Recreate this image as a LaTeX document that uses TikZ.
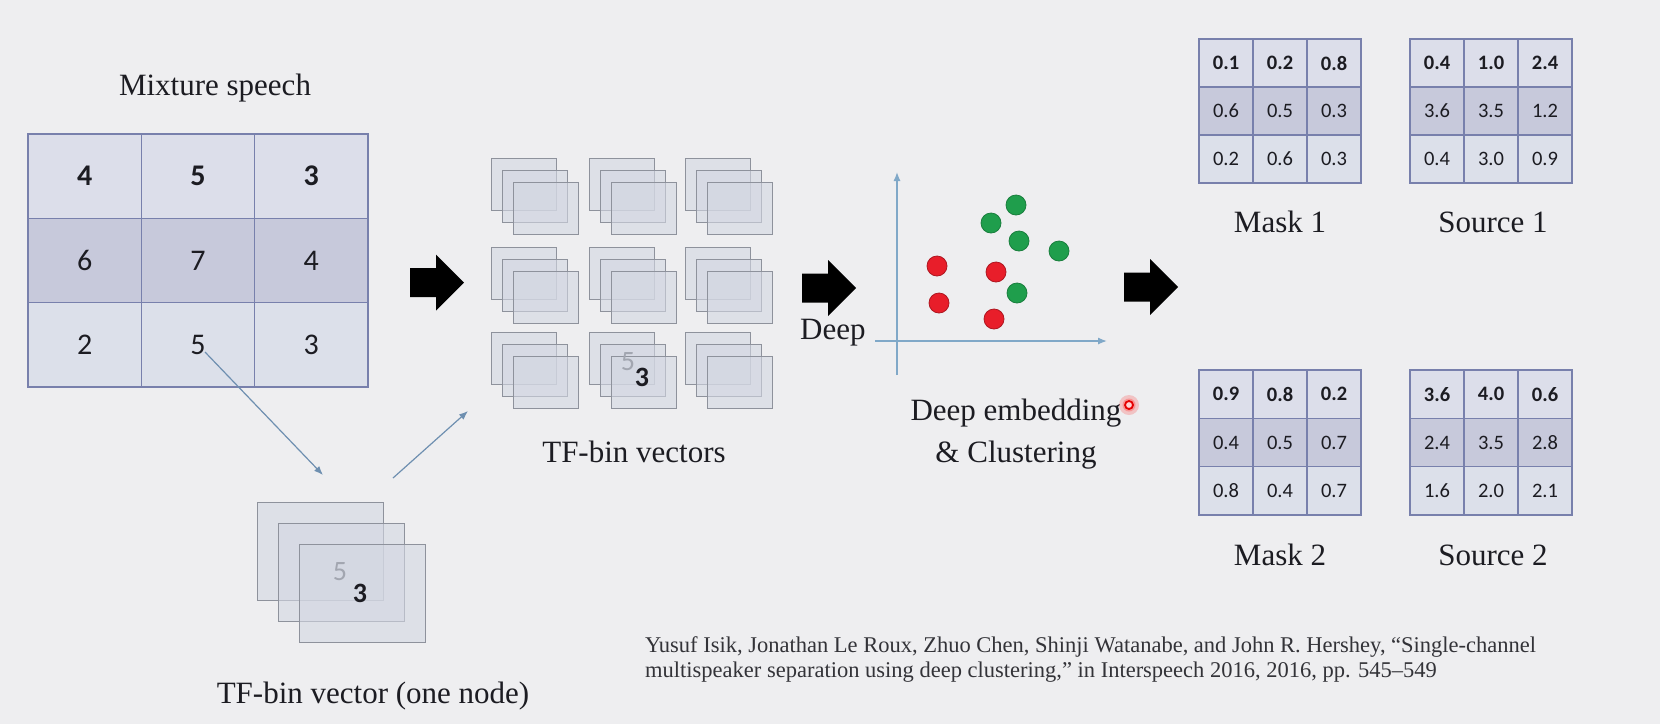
\documentclass[tikz,border=0pt]{standalone}
\usepackage{fontspec}
\setmainfont{Liberation Serif}
\newfontfamily\carl{Carlito}
\usetikzlibrary{arrows.meta}
\definecolor{bg}{HTML}{EEEEF0}
\definecolor{gridc}{HTML}{7880AC}
\definecolor{row1}{HTML}{DCDEEA}
\definecolor{row2}{HTML}{C7C9DB}
\definecolor{row3}{HTML}{DCE0EA}
\definecolor{txt}{HTML}{1C1C22}
\definecolor{vecf}{HTML}{D3D7E2}
\definecolor{vecd}{HTML}{8E929C}
\definecolor{axisc}{HTML}{80A8C8}
\definecolor{connc}{HTML}{6E8FB0}
\definecolor{gdotc}{HTML}{1F9E4C}
\definecolor{rdotc}{HTML}{E81E2A}
\definecolor{ghost}{HTML}{A2A6B0}
\tikzset{
  cell/.style={draw=gridc, line width=1.3pt, inner sep=0pt, text=txt},
  bigcell/.style={cell, font=\carl\fontsize{30}{30}\selectfont},
  smallcell/.style={cell, font=\carl\fontsize{20.5}{20.5}\selectfont},
  vec/.style={draw=vecd, fill=vecf, fill opacity=0.6, line width=1.1pt, inner sep=0pt, anchor=north west},
  lbl/.style={font=\fontsize{31}{37}\selectfont, text=txt, inner sep=0pt, anchor=base},
  cite/.style={font=\fontsize{22.5}{25}\selectfont, text=txt!90, inner sep=0pt, anchor=base west},
  conn/.style={draw=connc, line width=1.2pt, -{Latex[length=9pt,width=7pt]}},
  axis/.style={draw=axisc, line width=1.3pt, -{Latex[length=9pt,width=7pt]}},
  gdot/.style={circle, fill=gdotc, draw=gdotc!80!black, line width=0.8pt, minimum size=20pt, inner sep=0pt},
  rdot/.style={circle, fill=rdotc, draw=rdotc!75!black, line width=0.8pt, minimum size=20pt, inner sep=0pt},
  numv/.style={font=\carl\fontsize{28}{28}\selectfont, inner sep=0pt},
  barrow/.pic={\fill[black] (0,-14.5) -- (26,-14.5) -- (26,-28) -- (54,0) -- (26,28) -- (26,14.5) -- (0,14.5) -- cycle;}
}
% grid: prefix, x0, y0, cell w, cell h, style, list r/c/v
\newcommand\tfgrid[7]{%
  \foreach \r/\c/\v in {#7} {%
    \node[#6, minimum width=#4pt, minimum height=#5pt, fill=row\r] (#1\r\c)
      at ({#2+(\c-0.5)*#4},{#3+(\r-0.5)*#5}) {\ifnum\r=1 \bfseries\fi\v};}}
% stack: name, x, y, w, h, dx, dy
\newcommand\vstack[7]{%
  \node[vec, minimum width=#4pt, minimum height=#5pt] (#1a) at (#2,#3) {};
  \node[vec, minimum width=#4pt, minimum height=#5pt] (#1b) at ({#2+#6},{#3+#7}) {};
  \node[vec, minimum width=#4pt, minimum height=#5pt] (#1c) at ({#2+2*#6},{#3+2*#7}) {};}
\begin{document}
\begin{tikzpicture}[x=1pt,y=-1pt]
\fill[bg] (0,0) rectangle (1660,724);
\useasboundingbox (0,0) rectangle (1660,724);

% Mixture speech
\node[lbl] (mixlbl) at (215,95) {Mixture speech};
\tfgrid{m}{28}{134}{113.33}{84.33}{bigcell}{1/1/4,1/2/5,1/3/3,2/1/6,2/2/7,2/3/4,3/1/2,3/2/5,3/3/3}

% single TF-bin vector
\vstack{s}{257}{502}{126}{98}{21}{21}
\node[numv, text=ghost] (s5) at (340,572) {5};
\node[numv, text=txt] (s3) at (360,593) {\bfseries 3};
\node[lbl] (svlbl) at (373,703) {TF-bin vector (one node)};

\coordinate (p5) at (205,352);
\coordinate (q5) at (323,475);
\coordinate (p6) at (393,478);
\coordinate (q6) at (468,411);
\draw[conn] (p5) -- (q5);
\draw[conn] (p6) -- (q6);

% arrows
\pic at (410,282.5) {barrow};
\pic at (802,288) {barrow};
\pic at (1124,287) {barrow};

% TF-bin vectors grid of stacks
\foreach \i/\x in {1/491,2/589,3/685}{
  \foreach \j/\y in {1/158,2/247,3/332}{
    \vstack{t\j\i}{\x}{\y}{65}{52}{11}{12}
  }}
\node[numv, text=ghost] (t5) at (628,362) {5};
\node[numv, text=txt] (t3) at (642,377) {\bfseries 3};
\node[lbl] (tvlbl) at (634,462) {TF-bin vectors};

% embedding plot
\node[lbl, anchor=base west] (deeplbl) at (800,339) {Deep};
\coordinate (yb) at (897,375);
\coordinate (yt) at (897,172);
\coordinate (xl) at (875,341);
\coordinate (xr) at (1107,341);
\draw[axis] (yb) -- (yt);
\draw[axis] (xl) -- (xr);
\node[gdot] (g1) at (1016,205) {};
\node[gdot] (g2) at (991,223) {};
\node[gdot] (g3) at (1019,241) {};
\node[gdot] (g4) at (1059,251) {};
\node[gdot] (g5) at (1017,293) {};
\node[rdot] (r1) at (937,266) {};
\node[rdot] (r2) at (996,272) {};
\node[rdot] (r3) at (939,303) {};
\node[rdot] (r4) at (994,319) {};
\node[lbl] (emb1) at (1016,420) {Deep embedding};
\node[lbl] (emb2) at (1016,462) {\& Clustering};
% laser pointer
\fill[red, opacity=0.18] (1129,405) circle (10);
\fill[red!60!white, opacity=0.5] (1129,405) circle (6.5);
\draw[red!90!black, line width=1.8pt, fill=pink!70!white] (1129,405) circle (4);

% masks and sources
\tfgrid{a}{1199}{39}{54}{48}{smallcell}{1/1/0.1,1/2/0.2,1/3/0.8,2/1/0.6,2/2/0.5,2/3/0.3,3/1/0.2,3/2/0.6,3/3/0.3}
\tfgrid{b}{1410}{39}{54}{48}{smallcell}{1/1/0.4,1/2/1.0,1/3/2.4,2/1/3.6,2/2/3.5,2/3/1.2,3/1/0.4,3/2/3.0,3/3/0.9}
\tfgrid{c}{1199}{370}{54}{48.3}{smallcell}{1/1/0.9,1/2/0.8,1/3/0.2,2/1/0.4,2/2/0.5,2/3/0.7,3/1/0.8,3/2/0.4,3/3/0.7}
\tfgrid{d}{1410}{370}{54}{48.3}{smallcell}{1/1/3.6,1/2/4.0,1/3/0.6,2/1/2.4,2/2/3.5,2/3/2.8,3/1/1.6,3/2/2.0,3/3/2.1}
\node[lbl] (m1lbl) at (1280,232) {Mask 1};
\node[lbl] (s1lbl) at (1493,232) {Source 1};
\node[lbl] (m2lbl) at (1280,565) {Mask 2};
\node[lbl] (s2lbl) at (1493,565) {Source 2};

% citation
\node[cite] (cit1) at (645,652) {Yusuf Isik, Jonathan Le Roux, Zhuo Chen, Shinji Watanabe, and John R. Hershey, “Single-channel};
\node[cite] (cit2) at (645,677) {multispeaker separation using deep clustering,” in Interspeech 2016, 2016, pp. 545–549};
\end{tikzpicture}
\end{document}
